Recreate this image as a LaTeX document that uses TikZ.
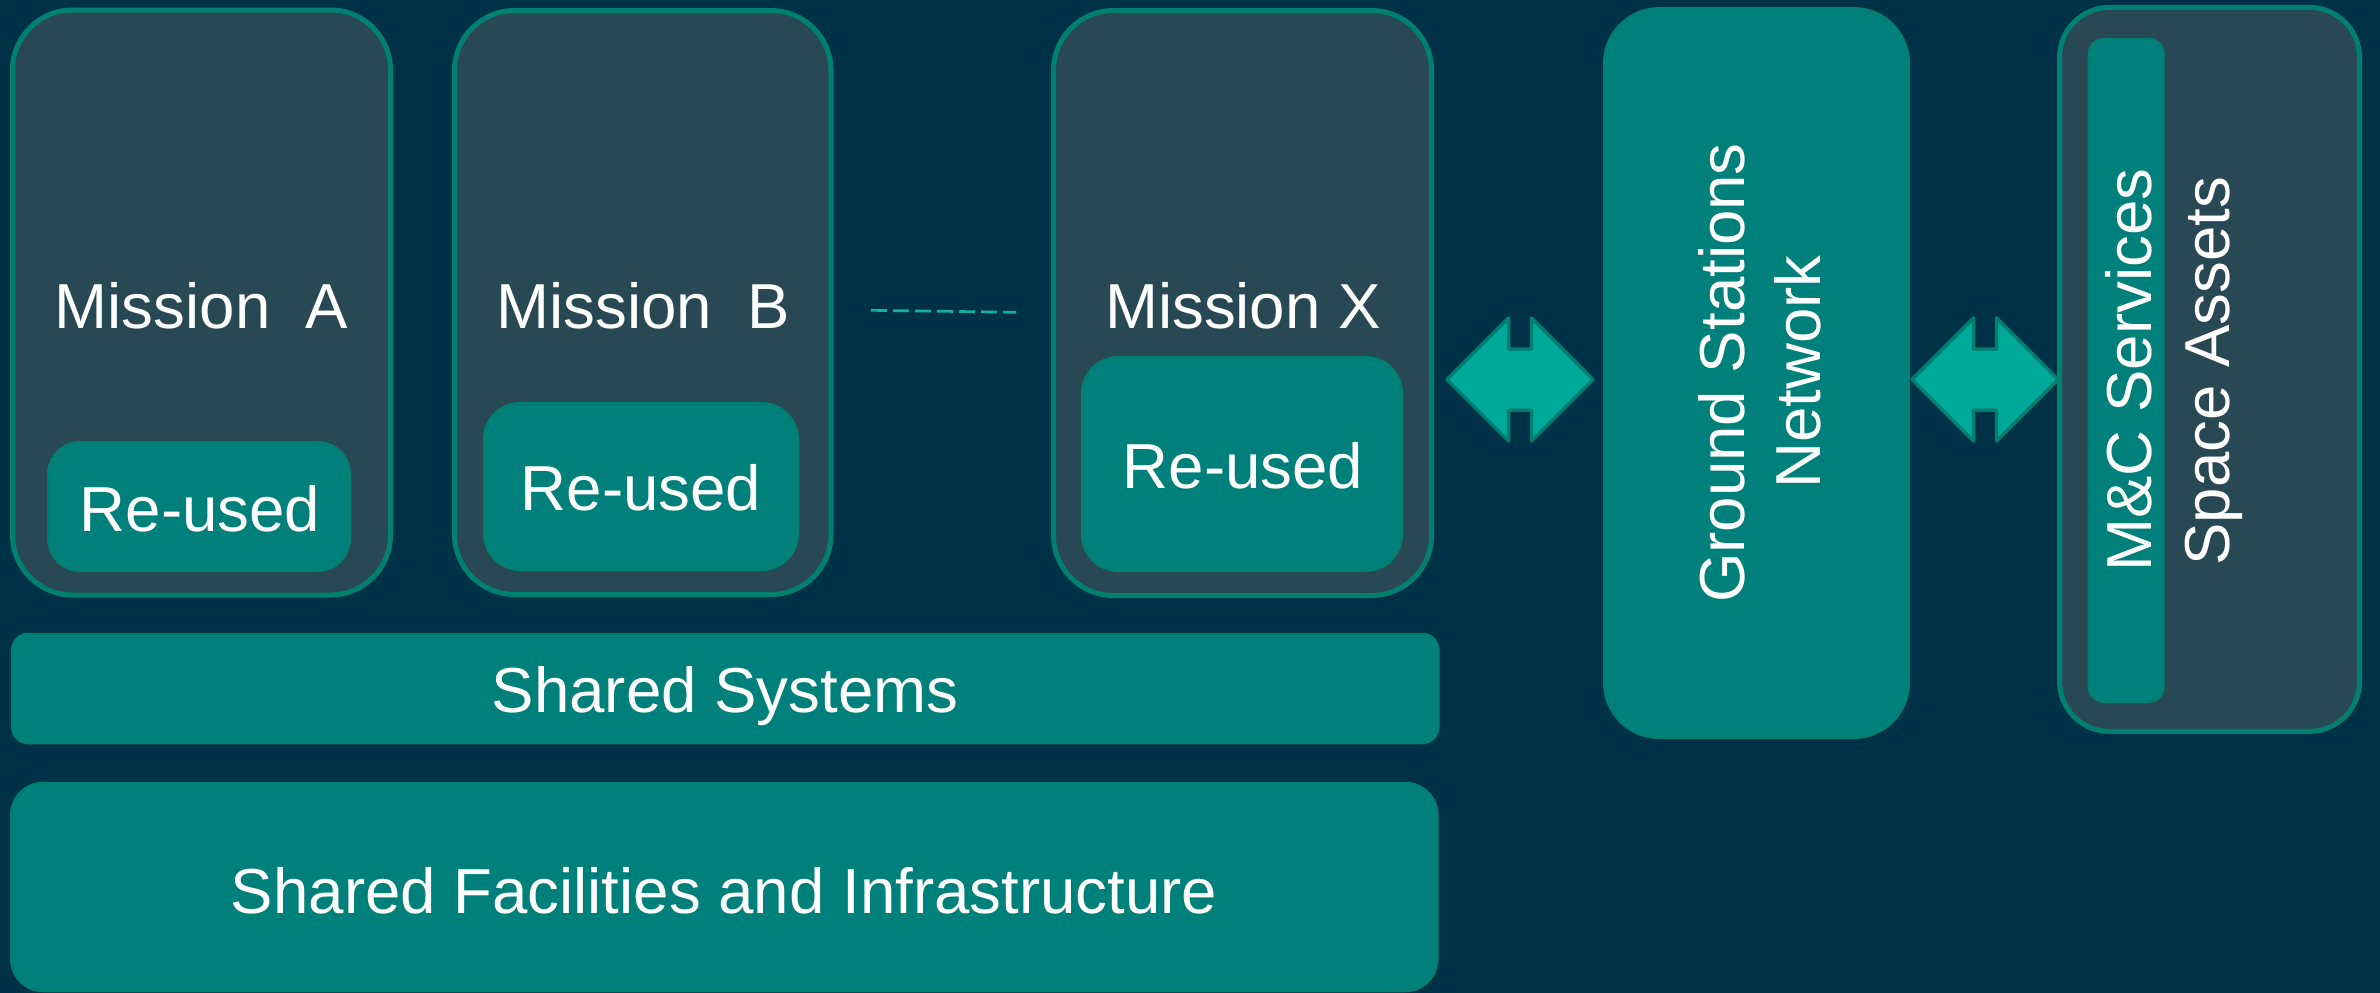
\documentclass[tikz,border=0pt]{standalone}
\usepackage{fontspec}
\setmainfont{Liberation Sans}
\definecolor{bgnavy}{RGB}{0,50,71}
\definecolor{slate}{RGB}{40,72,84}
\definecolor{tealfill}{RGB}{0,128,122}
\definecolor{tealedge}{RGB}{0,128,112}
\definecolor{tealbright}{RGB}{0,170,154}
\definecolor{dashteal}{RGB}{20,176,160}
\tikzset{
  mission/.style={draw=tealedge, line width=5pt, fill=slate, rounded corners=60pt, inner sep=0pt},
  reused/.style={draw=tealedge, line width=2.5pt, fill=tealfill, rounded corners=34pt, inner sep=0pt},
  tealbox/.style={draw=tealedge, line width=2.5pt, fill=tealfill, inner sep=0pt},
  lbl/.style={text=white, font=\fontsize{63.6}{76}\selectfont, inner sep=0pt, anchor=base},
  arrowshape/.style={draw=tealedge, fill=tealbright, line width=3.5pt, line join=round},
  dashline/.style={draw=dashteal, line width=2.7pt, dash pattern=on 16pt off 6pt},
  pics/dblarrow/.style={code={
    \path[arrowshape] (-73,0) -- (-11.5,-61.5) -- (-11.5,-30.5) -- (11.5,-30.5) -- (11.5,-61.5)
      -- (73,0) -- (11.5,61.5) -- (11.5,30.5) -- (-11.5,30.5) -- (-11.5,61.5) -- cycle;
  }}
}
\begin{document}
\begin{tikzpicture}[x=1pt, y=-1pt]
\useasboundingbox (0,0) rectangle (2380,993);
\fill[bgnavy] (0,0) rectangle (2380,993);

% mission boxes
\node[mission, minimum width=378pt, minimum height=585pt] (mA) at (201.5,302.5) {};
\node[mission, minimum width=376.5pt, minimum height=584pt] (mB) at (642.75,302.5) {};
\node[mission, minimum width=378pt, minimum height=585pt] (mX) at (1242.5,303) {};

\node[reused, rounded corners=32pt, minimum width=301.5pt, minimum height=128.5pt] (rA) at (199,506.5) {};
\node[reused, rounded corners=36pt, minimum width=313.5pt, minimum height=166.5pt] (rB) at (641,486.5) {};
\node[reused, rounded corners=36pt, minimum width=319.5pt, minimum height=213.5pt] (rX) at (1242,464) {};

\node[lbl] (tA) at (201.5,328) {Mission\ \ A};
\node[lbl] (tB) at (643,328) {Mission\ \ B};
\node[lbl] (tX) at (1243,328) {Mission X};
\node[lbl] (trA) at (200,531) {Re-used};
\node[lbl] (trB) at (641,510) {Re-used};
\node[lbl] (trX) at (1243,488.6) {Re-used};

% dashed line between missions
\coordinate (dl1) at (871,310.3);
\coordinate (dl2) at (1016,312.3);
\draw[dashline] (dl1) -- (dl2);

% shared layers
\node[tealbox, rounded corners=16pt, minimum width=1426pt, minimum height=109pt] (SS) at (725.25,688.5) {};
\node[lbl] (tSS) at (725,712.7) {Shared Systems};
\node[tealbox, rounded corners=32pt, minimum width=1426pt, minimum height=208pt] (SF) at (724.25,887) {};
\node[lbl] (tSF) at (724,913.3) {Shared Facilities and Infrastructure};

% ground stations
\node[tealbox, rounded corners=55pt, minimum width=304.5pt, minimum height=729.5pt] (GS) at (1756.5,373) {};
\node[lbl, rotate=90] (tGS1) at (1744,373) {Ground Stations};
\node[lbl, rotate=90] (tGS2) at (1820,372) {Network};

% space assets
\node[mission, rounded corners=50pt, minimum width=300pt, minimum height=724pt] (SA) at (2209.5,369.4) {};
\node[tealbox, line width=2pt, rounded corners=15pt, minimum width=75pt, minimum height=663pt] (MC) at (2126.2,370.4) {};
\node[lbl, rotate=90] (tMC) at (2151,370) {M\&C Services};
\node[lbl, rotate=90] (tSA) at (2229.5,371) {Space Assets};

% double arrows
\pic (arr1) at (1520,379.5) {dblarrow};
\pic (arr2) at (1985,379.5) {dblarrow};
\end{tikzpicture}
\end{document}
